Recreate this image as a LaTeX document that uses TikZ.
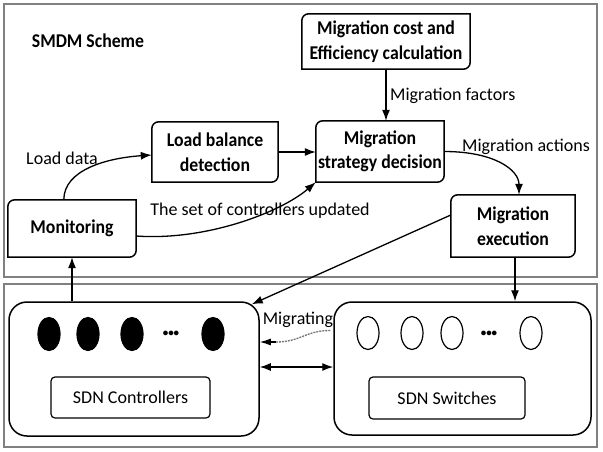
\documentclass[tikz,border=0pt]{standalone}
\usepackage{fontspec}
\setmainfont{Carlito}
\newfontfamily\bxfont{Carlito}[FakeStretch=0.91]
\usetikzlibrary{arrows.meta,calc,shapes.geometric}
\begin{document}
\begin{tikzpicture}[x=1pt,y=-1pt,
  every node/.style={font=\fontsize{18}{24}\selectfont, inner sep=0pt},
  bx/.style={font=\bxfont\bfseries\fontsize{19.5}{24.5}\selectfont, align=center},
  dots/.style={font=\bfseries\fontsize{11}{12}\selectfont},
  outer/.style={draw=black!50, line width=1.5pt},
  boxline/.style={line width=1.5pt},
  bigbox/.style={draw, rounded corners=18pt, line width=1.5pt},
  lab/.style={draw, rounded corners=4pt, line width=1.2pt},
  ell/.style={ellipse, draw, line width=1.2pt, minimum width=22pt, minimum height=33pt, inner sep=0pt},
  tip/.style={-{Latex[length=11pt,width=8pt]}},
  arr/.style={line width=1.3pt, tip},
  darr/.style={line width=1.3pt, {Latex[length=11pt,width=8pt]}-{Latex[length=11pt,width=8pt]}},
  dashline/.style={draw=black!55, line width=1.3pt, dash pattern=on 2pt off 1pt}
]
\useasboundingbox (0,0) rectangle (603,451);
\fill[white] (0,0) rectangle (603,451);
\draw[outer] (4,4) rectangle (597,277);
\draw[outer] (4,284) rectangle (597,447);

\node[bx] (title) at (88,41) {SMDM Scheme};

\node[bx, minimum width=168pt, minimum height=55pt] (cost) at (386,41.5) {Migration cost and\\Efficiency calculation};
\node[bx, minimum width=126pt, minimum height=60pt] (lb) at (215,152) {Load balance\\detection};
\node[bx, minimum width=128pt, minimum height=61pt] (strat) at (380,151.5) {Migration\\strategy decision};
\node[bx, minimum width=128pt, minimum height=57pt] (mon) at (72,228.5) {Monitoring};
\node[bx, minimum width=124pt, minimum height=62pt] (exec) at (513,226) {Migration\\execution};

\foreach \n in {cost,lb,strat,mon,exec}{
  \draw[boxline] (\n.south west) -- ($(\n.north west)+(0,7)$)
    .. controls ($(\n.north west)+(0,3)$) and ($(\n.north west)+(3,0)$) .. ($(\n.north west)+(7,0)$)
    -- (\n.north east) -- ($(\n.south east)+(0,-7)$)
    .. controls ($(\n.south east)+(0,-3)$) and ($(\n.south east)+(-3,0)$) .. ($(\n.south east)+(-7,0)$)
    -- cycle;
}

\node[bigbox, minimum width=250pt, minimum height=134pt] (ctrl) at (134,369) {};
\node[bigbox, minimum width=257pt, minimum height=133pt] (sw) at (462.5,368.5) {};
\node[lab, minimum width=159pt, minimum height=41pt] (ctrll) at (130.5,397.5) {SDN Controllers};
\node[lab, minimum width=156pt, minimum height=42pt] (swl) at (447,398) {SDN Switches};

\node[ell, fill=black] (c1) at (49,334) {};
\node[ell, fill=black] (c2) at (88,334) {};
\node[ell, fill=black] (c3) at (132,334) {};
\node[ell, fill=black] (c4) at (213,334) {};
\node[dots] (cd) at (171,334) {•••};

\node[ell] (s1) at (368,333) {};
\node[ell] (s2) at (412,333) {};
\node[ell] (s3) at (452,333) {};
\node[ell] (s4) at (531,333) {};
\node[dots] (sd) at (489,334) {•••};

% labels
\node[anchor=west] (mf) at (390,96) {Migration factors};
\node (ld) at (62,158) {Load data};
\node (tsc) at (260,211) {The set of controllers updated};
\node (ma) at (526,147) {Migration actions};
\node (mg) at (298,320) {Migrating};

% helper coordinates
\coordinate (e1) at ($(exec.south)+(2,0)$);
\coordinate (e2) at ($(exec.west)+(0,-11)$);
\coordinate (c1tr) at ($(ctrl.north east)+(-8,3)$);
\coordinate (m1) at ($(mon.north west)+(56,0)$);
\coordinate (lbin) at ($(lb.west)+(0,3)$);
\coordinate (m2) at ($(mon.east)+(0,7.5)$);
\coordinate (x1) at ($(exec.north)+(6,0)$);
\coordinate (dg1) at ($(sw.west)+(-3,-38)$);
\coordinate (dg2) at ($(ctrl.east)+(16,-27)$);
\coordinate (dg3) at ($(ctrl.east)+(0,-27)$);

% connectors
\draw[arr] (cost.south) -- (cost.south |- strat.north);
\draw[arr] (lb.east) -- (lb.east -| strat.west);
\draw[arr] (m1) .. controls +(0,-30) and +(-45,3) .. (lbin);
\draw[arr] (m2) .. controls +(70,5) and +(-35,30) .. (strat.south west);
\draw[arr] (strat.east) .. controls +(50,0) and +(0,-25) .. (x1);
\draw[arr] (e2) -- (c1tr);
\draw[arr] (e1) -- (e1 |- sw.north);
\draw[arr] (mon.south |- ctrl.north) -- (mon.south);
\draw[darr] (ctrl.east |- 0,367) -- (sw.west |- 0,367);
\draw[dashline] (dg1) .. controls +(-25,0) and +(25,0) .. (dg2);
\draw[line width=1.3pt, -{Latex[length=11pt,width=7pt]}] (dg2) -- (dg3);
\end{tikzpicture}
\end{document}
